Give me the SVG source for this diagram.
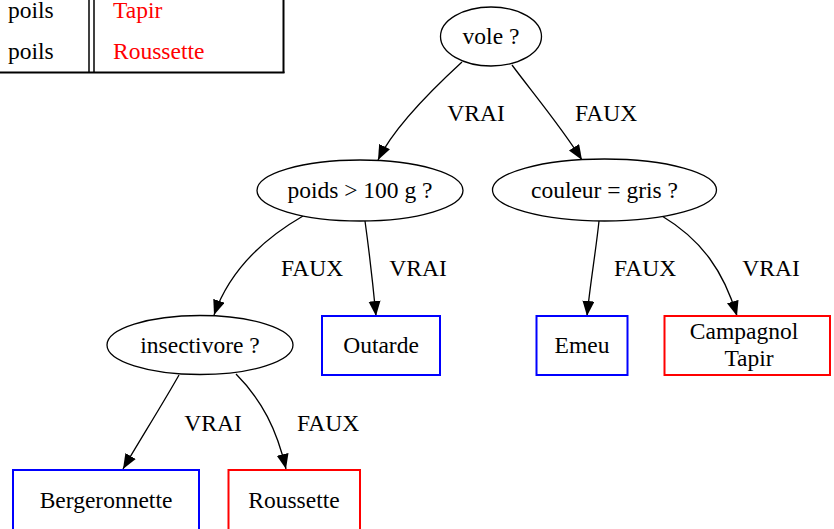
<svg xmlns="http://www.w3.org/2000/svg" width="834" height="529" viewBox="0 0 834 529" font-family="'Liberation Serif', 'DejaVu Serif', serif">
<defs>
<style>
text{font-size:23.5px;fill:#000;text-anchor:middle}
.red{fill:#ff0000}
.l{text-anchor:start}
.n{fill:#fff;stroke:#000;stroke-width:1.3}
.b{fill:#fff;stroke:#0000ff;stroke-width:2}
.r{fill:#fff;stroke:#ff0000;stroke-width:2}
.e{fill:none;stroke:#000;stroke-width:1.3;marker-end:url(#ah)}
.t{stroke:#000;fill:none}
</style>
<marker id="ah" markerUnits="userSpaceOnUse" markerWidth="16" markerHeight="13" refX="15" refY="6" orient="auto">
<path d="M0,0 L15,6 L0,12 z" fill="#000"/>
</marker>
</defs>
<rect width="834" height="529" fill="#fff"/>
<g id="table">
<line class="t" x1="89" y1="0" x2="89" y2="73" stroke-width="1.5"/>
<line class="t" x1="94" y1="0" x2="94" y2="73" stroke-width="1.5"/>
<line class="t" x1="283.5" y1="0" x2="283.5" y2="73" stroke-width="2"/>
<line class="t" x1="0" y1="72.5" x2="284.5" y2="72.5" stroke-width="2"/>
<text class="l" x="8" y="18">poils</text>
<text class="l" x="8" y="59">poils</text>
<text class="l red" x="113" y="18">Tapir</text>
<text class="l red" x="113" y="59">Roussette</text>
</g>
<g id="edges">
<path class="e" d="M462,62 C438,84 395,125 378,160"/>
<path class="e" d="M512,65 C532,92 560,125 582,160"/>
<path class="e" d="M303,216 C258,242 228,275 214,315"/>
<path class="e" d="M365,221 C369,250 373,285 376,316"/>
<path class="e" d="M599,221 C596,250 590,285 587,316"/>
<path class="e" d="M662,216 C702,240 724,272 737,316"/>
<path class="e" d="M179,375 C165,400 140,440 123,469"/>
<path class="e" d="M236,374 C262,400 277,430 286,469"/>
<text x="476" y="121">VRAI</text>
<text x="606" y="121">FAUX</text>
<text x="312" y="276">FAUX</text>
<text x="418" y="276">VRAI</text>
<text x="645" y="276">FAUX</text>
<text x="771" y="276">VRAI</text>
<text x="213" y="431">VRAI</text>
<text x="328" y="431">FAUX</text>
</g>
<g id="vole"><ellipse class="n" cx="491" cy="36.5" rx="50.5" ry="29.5"/><text x="491" y="44">vole ?</text></g>
<g id="poids"><ellipse class="n" cx="360" cy="190.5" rx="103" ry="30.5"/><text x="360" y="198">poids &gt; 100 g ?</text></g>
<g id="couleur"><ellipse class="n" cx="604.5" cy="190" rx="112" ry="31"/><text x="604.5" y="198">couleur = gris ?</text></g>
<g id="insectivore"><ellipse class="n" cx="200" cy="345" rx="93" ry="29.5"/><text x="200" y="353">insectivore ?</text></g>
<g id="outarde"><rect class="b" x="322" y="316" width="118" height="59"/><text x="381" y="353">Outarde</text></g>
<g id="emeu"><rect class="b" x="536.5" y="316" width="91" height="59"/><text x="582" y="353">Emeu</text></g>
<g id="campagnol"><rect class="r" x="664.5" y="316" width="165.5" height="59"/><text x="744" y="339">Campagnol</text><text x="749" y="366">Tapir</text></g>
<g id="bergeronnette"><rect class="b" x="13" y="470" width="186" height="70"/><text x="106" y="508">Bergeronnette</text></g>
<g id="roussette"><rect class="r" x="228.5" y="470" width="131.5" height="70"/><text x="294" y="508">Roussette</text></g>
</svg>
